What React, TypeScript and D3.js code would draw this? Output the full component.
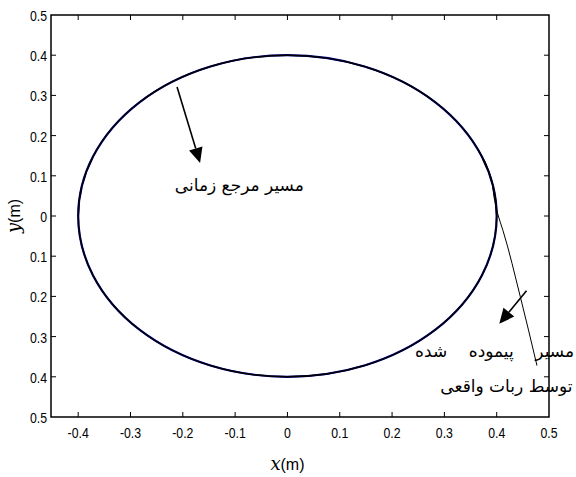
import React from "react";
import * as d3 from "d3";

// ---- data ----
const xTicks = [-0.4, -0.3, -0.2, -0.1, 0, 0.1, 0.2, 0.3, 0.4, 0.5];
const xTickLabels = ["-0.4", "-0.3", "-0.2", "-0.1", "0", "0.1", "0.2", "0.3", "0.4", "0.5"];
const yTicks = [0.5, 0.4, 0.3, 0.2, 0.1, 0, -0.1, -0.2, -0.3, -0.4, -0.5];
const yTickLabels = ["0.5", "0.4", "0.3", "0.2", "0.1", "0", "0.1", "0.2", "0.3", "0.4", "0.5"];
const refCenter = [0, 0];
const refRadius = 0.4;
const robotX = [0.477, 0.445, 0.412, 0.402, 0.396, 0.39, 0.376];
const robotY = [-0.372, -0.2, -0.036, 0.005, 0.039, 0.09, 0.14];
const arrow1 = { x0: -0.211, y0: 0.321, x1: -0.167, y1: 0.132 };
const arrow2 = { x0: 0.457, y0: -0.186, x1: 0.405, y1: -0.268 };
const label1 = { x: -0.092, y: 0.063, text: "مسیر مرجع زمانی" };
const label2a = { x: 0.548, y: -0.35, text: "مسیر    پیموده    شده" };
const label2b = { x: 0.545, y: -0.437, text: "توسط ربات واقعی" };

const W = 576, H = 477;
const x = d3.scaleLinear().domain([-0.452, 0.5]).range([51, 549]);
const y = d3.scaleLinear().domain([0.5, -0.5]).range([15, 417]);

const tickFont = "'Liberation Sans', Arial, sans-serif";
const faFont = "'DejaVu Sans', sans-serif";

function Arrow({ a }: { a: { x0: number; y0: number; x1: number; y1: number } }) {
  const px0 = x(a.x0), py0 = y(a.y0), px1 = x(a.x1), py1 = y(a.y1);
  const ang = Math.atan2(py1 - py0, px1 - px0);
  const len = 15, half = 7;
  const bx = px1 - len * Math.cos(ang), by = py1 - len * Math.sin(ang);
  const nx = -Math.sin(ang), ny = Math.cos(ang);
  const pts = [
    [px1, py1],
    [bx + nx * half, by + ny * half],
    [bx - nx * half, by - ny * half],
  ];
  return (
    <g>
      <line x1={px0} y1={py0} x2={bx} y2={by} stroke="#000" strokeWidth={1.6} />
      <polygon points={pts.map((p) => p.join(",")).join(" ")} fill="#000" />
    </g>
  );
}

function NarrowText({ px, py, anchor, children }: { px: number; py: number; anchor: string; children: React.ReactNode }) {
  return (
    <g transform={`translate(${px},${py}) scale(0.82,1)`}>
      <text x={0} y={0} fontSize={15} fontFamily={tickFont} textAnchor={anchor} fill="#000">
        {children}
      </text>
    </g>
  );
}

export default function App() {
  const robotLine = d3
    .line<number>()
    .x((_, i) => x(robotX[i]))
    .y((_, i) => y(robotY[i]))
    .curve(d3.curveMonotoneY);
  const x0 = x.range()[0], x1 = x.range()[1];
  const y0 = y.range()[0], y1 = y.range()[1];
  const tl = 5;
  return (
    <div style={{ position: "fixed", left: 0, top: 0 }}>
      <svg width={W} height={H} style={{ display: "block", background: "#fff" }}>
        {/* reference circle */}
        <ellipse
          cx={x(refCenter[0])}
          cy={y(refCenter[1])}
          rx={x(refRadius) - x(0)}
          ry={y(0) - y(refRadius)}
          fill="none"
          stroke="#00008b"
          strokeWidth={2.2}
        />
        <ellipse
          cx={x(refCenter[0])}
          cy={y(refCenter[1])}
          rx={x(refRadius) - x(0)}
          ry={y(0) - y(refRadius)}
          fill="none"
          stroke="#000"
          strokeWidth={1.4}
        />
        {/* robot path */}
        <path d={robotLine(robotX) || ""} fill="none" stroke="#000" strokeWidth={1} />

        {/* frame */}
        <rect x={x0} y={y0} width={x1 - x0} height={y1 - y0} fill="none" stroke="#000" strokeWidth={1.5} />
        {/* x ticks */}
        {xTicks.slice(0, -1).map((t) => (
          <g key={"xt" + t}>
            <line x1={x(t)} x2={x(t)} y1={y1} y2={y1 - tl} stroke="#000" strokeWidth={1} />
            <line x1={x(t)} x2={x(t)} y1={y0} y2={y0 + tl} stroke="#000" strokeWidth={1} />
          </g>
        ))}
        {xTicks.map((t, i) => (
          <NarrowText key={"xl" + t} px={x(t)} py={y1 + 21} anchor="middle">
            {xTickLabels[i]}
          </NarrowText>
        ))}
        {/* y ticks */}
        {yTicks.slice(1, -1).map((t) => (
          <g key={"yt" + t}>
            <line x1={x0} x2={x0 + tl} y1={y(t)} y2={y(t)} stroke="#000" strokeWidth={1} />
            <line x1={x1} x2={x1 - tl} y1={y(t)} y2={y(t)} stroke="#000" strokeWidth={1} />
          </g>
        ))}
        {yTicks.map((t, i) => (
          <NarrowText key={"yl" + i} px={x0 - 4} py={y(t) + 6} anchor="end">
            {yTickLabels[i]}
          </NarrowText>
        ))}
        {/* axis labels */}
        <text x={x(0)} y={470} fontSize={18} textAnchor="middle" fill="#000">
          <tspan fontFamily="'DejaVu Serif', 'Liberation Serif', serif" fontStyle="italic">x</tspan>
          <tspan fontFamily={tickFont} fontSize={16}>(m)</tspan>
        </text>
        <text
          transform={`translate(20,${y(0)}) rotate(-90)`}
          fontSize={18}
          textAnchor="middle"
          fill="#000"
        >
          <tspan fontFamily="'DejaVu Serif', 'Liberation Serif', serif" fontStyle="italic">y</tspan>
          <tspan fontFamily={tickFont} fontSize={16}>(m)</tspan>
        </text>

        {/* annotations */}
        <Arrow a={arrow1} />
        <Arrow a={arrow2} />
        <text x={x(label1.x)} y={y(label1.y)} fontSize={17} fontFamily={faFont} textAnchor="middle" direction="rtl" fill="#000">
          {label1.text}
        </text>
        <text x={x(label2a.x)} y={y(label2a.y)} fontSize={17} fontFamily={faFont} direction="rtl" textAnchor="start" fill="#000" style={{ whiteSpace: "pre" }}>
          {label2a.text}
        </text>
        <text x={x(label2b.x)} y={y(label2b.y)} fontSize={17} fontFamily={faFont} direction="rtl" textAnchor="start" fill="#000">
          {label2b.text}
        </text>
      </svg>
    </div>
  );
}
